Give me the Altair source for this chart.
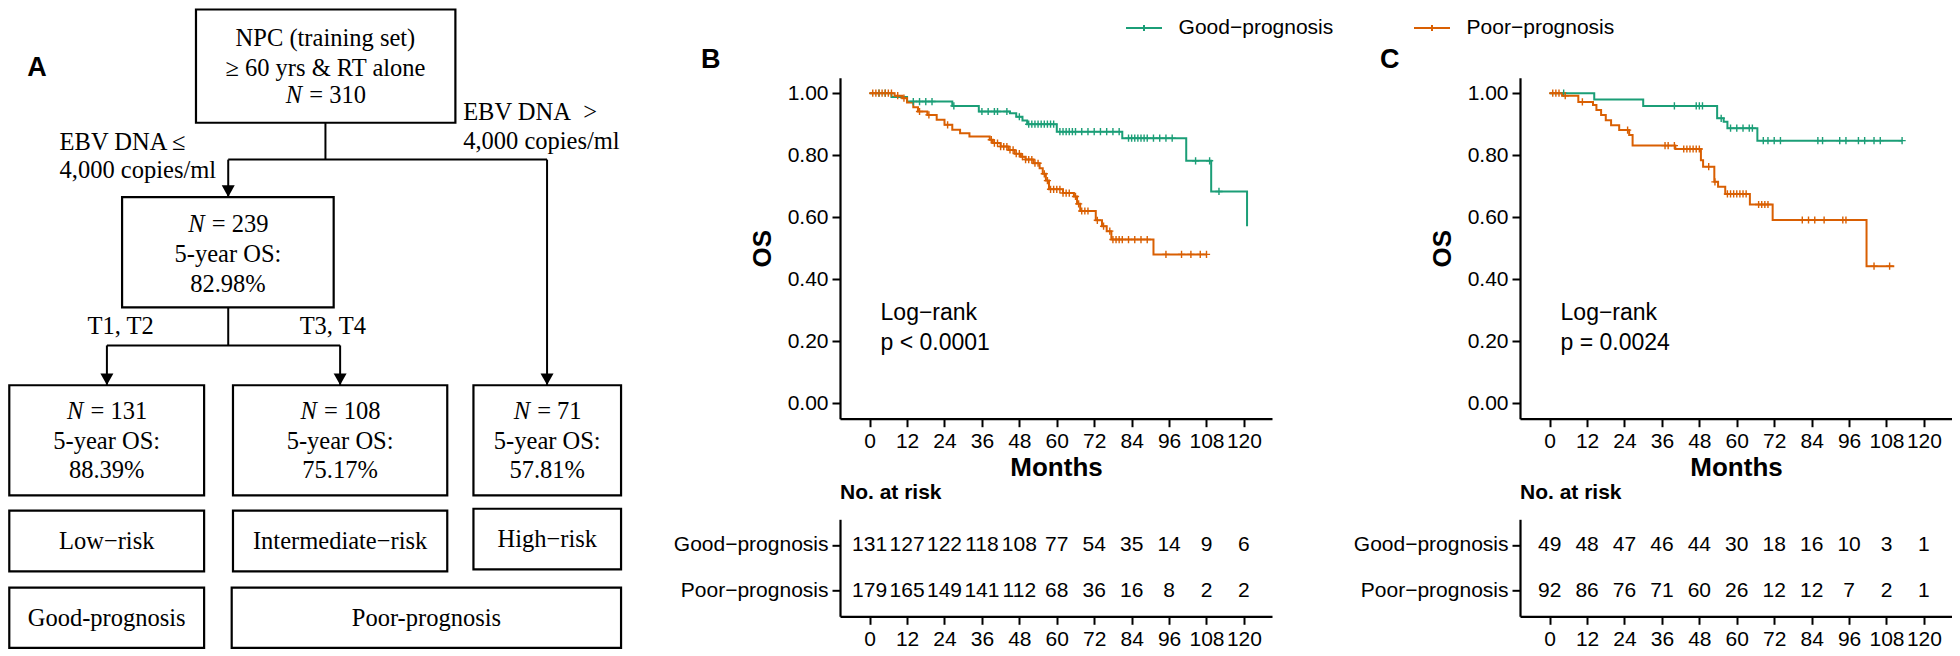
import altair as alt
import pandas as pd

# ------------------------------------------------------------------ data
GROUPS = ["Good−prognosis", "Poor−prognosis"]
COLORS = ["#1B9E77", "#D95F02"]
MONTH_TICKS = [0, 12, 24, 36, 48, 60, 72, 84, 96, 108, 120]
OS_TICKS = [0.0, 0.2, 0.4, 0.6, 0.8, 1.0]

# Panel B (training set) Kaplan-Meier steps
b_good_t = [0, 7, 12, 26.5, 35, 45, 47, 49, 50.5, 60, 81, 101.5, 109.5, 121]
b_good_s = [1.0, 0.988, 0.973, 0.959, 0.941, 0.935, 0.924, 0.912, 0.900, 0.876, 0.855, 0.782, 0.683, 0.571]
b_poor_t = [0, 8, 10.5, 12, 14, 15.5, 18.5, 21.5, 24, 26.5, 29, 32, 38.5, 39.5, 42, 44.5, 46.5,
            48.5, 50, 52.5, 54.5, 55.5, 56.5, 57.5, 62, 65.5, 66.5, 67.5, 72.5, 74.5, 76, 77.5, 91, 108]
b_poor_s = [1.0, 0.992, 0.984, 0.970, 0.955, 0.941, 0.930, 0.914, 0.898, 0.882, 0.871, 0.860, 0.850,
            0.839, 0.828, 0.817, 0.805, 0.795, 0.786, 0.774, 0.758, 0.740, 0.718, 0.690, 0.678, 0.667,
            0.643, 0.620, 0.590, 0.571, 0.555, 0.528, 0.480, 0.480]
b_good_cens = [3, 5, 14, 16, 18, 20, 27, 36, 38, 40, 41, 44, 48, 51, 52, 53, 54, 55, 56, 57, 58, 59,
               61, 62, 63, 64, 65, 66, 68, 70, 72, 74, 76, 78, 80, 83, 84, 85, 86, 87, 88, 89, 91, 93,
               95, 97, 104.5, 109, 112]
b_poor_cens = [1, 2, 3, 4, 5, 6, 7, 9, 11, 16, 19, 25, 39, 40, 41, 42, 43, 44, 45, 46, 47, 48, 49, 50,
               51, 52, 53, 54, 56, 57, 58, 59, 60, 61, 62, 63, 64, 66, 67, 68, 69, 70, 73, 75, 77, 78,
               79, 80, 81, 83, 85, 87, 89, 95, 100, 103, 106, 108]
b_risk_good = [131, 127, 122, 118, 108, 77, 54, 35, 14, 9, 6]
b_risk_poor = [179, 165, 149, 141, 112, 68, 36, 16, 8, 2, 2]
b_pval = "p < 0.0001"

# Panel C (validation set)
c_good_t = [0, 14.3, 30, 53.7, 55.8, 57, 66.6, 113]
c_good_s = [1.0, 0.980, 0.959, 0.919, 0.908, 0.887, 0.847, 0.847]
c_poor_t = [0, 4, 9.2, 13.9, 15, 16.5, 18, 19.7, 22.3, 25.5, 26.6, 40.3, 48.5, 49.2, 52.8, 54,
            56.3, 64.2, 71.5, 101.6, 110.5]
c_poor_s = [1.0, 0.992, 0.972, 0.962, 0.946, 0.930, 0.913, 0.897, 0.881, 0.865, 0.831, 0.820,
            0.784, 0.763, 0.714, 0.698, 0.675, 0.641, 0.591, 0.442, 0.442]
c_good_cens = [4.5, 40, 47, 48, 49, 55, 58, 60, 62, 64, 65, 68.5, 70, 72, 74, 86, 87.5, 93, 95,
               99, 101, 104, 106, 113]
c_poor_cens = [1, 2, 3, 5, 10.5, 25, 37, 38, 40, 43, 44, 45, 46, 47, 48, 51, 53, 57, 58, 59, 60,
               61, 62, 63, 67, 68, 69, 70, 81, 83, 85, 88, 94, 95, 104, 109]
c_risk_good = [49, 48, 47, 46, 44, 30, 18, 16, 10, 3, 1]
c_risk_poor = [92, 86, 76, 71, 60, 26, 12, 12, 7, 2, 1]
c_pval = "p = 0.0024"

# Panel A flowchart text
top_lines = ["NPC (training set)", "≥ 60 yrs & RT alone", "N = 310"]
mid_lines = ["N = 239", "5-year OS:", "82.98%"]
leaf_n = ["131", "108", "71"]
leaf_os = ["88.39%", "75.17%", "57.81%"]
risk_names = ["Low−risk", "Intermediate−risk", "High−risk"]
prog_names = ["Good-prognosis", "Poor-prognosis"]
branch_left = ["EBV DNA ≤", "4,000 copies/ml"]
branch_right = ["EBV DNA\u00a0\u00a0>", "4,000 copies/ml"]
t_labels = ["T1, T2", "T3, T4"]

# ------------------------------------------------------------------ layout (reference px -> view px)
MARGIN = 8                     # page margin around the view
SANS = "Liberation Sans"
SERIF = "Liberation Serif"
INK = "black"

B_AXIS = 840 - MARGIN          # y-axis line of panel B
C_AXIS = 1520 - MARGIN         # y-axis line of panel C
W_KM = 432
KM_TOP = 76.7 - MARGIN
H_KM = 417.7 - MARGIN
RISK_TOP = 518 - MARGIN
H_RISK = 97
COL_GAP = C_AXIS - B_AXIS - W_KM
W_A = B_AXIS - COL_GAP
ROW_GAP = RISK_TOP - H_KM
X_DOMAIN = [-9.5, 129]
Y_DOMAIN = [-0.05, 1.05]
PLUS = "M-1,0H1M0,-1V1"

AX = dict(domainColor=INK, domainWidth=2.2, tickColor=INK, tickWidth=2, tickSize=8,
          labelFont=SANS, labelFontSize=21, labelColor=INK, labelPadding=4,
          titleFont=SANS, titleFontSize=26, titleFontWeight="bold", titleColor=INK,
          grid=False, labelFlush=False, labelOverlap=False)


def step_at(ts, ss, t):
    val = ss[0]
    for a, b in zip(ts, ss):
        if a <= t:
            val = b
    return val


def km_panel(letter, letter_dx, curves, cens, pval, legend):
    rows, crow = [], []
    for g, (ts, ss) in zip(GROUPS, curves):
        rows += [{"group": g, "t": t, "s": s} for t, s in zip(ts, ss)]
    for g, (ts, ss), cl in zip(GROUPS, curves, cens):
        crow += [{"group": g, "t": t, "s": step_at(ts, ss, t)} for t in cl]
    x = alt.X("t:Q", scale=alt.Scale(domain=X_DOMAIN, nice=False, zero=False),
              axis=alt.Axis(values=MONTH_TICKS, title="Months", titlePadding=3, **AX))
    y = alt.Y("s:Q", scale=alt.Scale(domain=Y_DOMAIN, range=[H_KM, KM_TOP], nice=False, zero=False),
              axis=alt.Axis(values=OS_TICKS, format=".2f", title="OS", titlePadding=12, **AX))
    cscale = alt.Scale(domain=GROUPS, range=COLORS)
    lines = alt.Chart(pd.DataFrame(rows)).mark_line(interpolate="step-after", strokeWidth=2).encode(
        x=x, y=y, color=alt.Color("group:N", scale=cscale, legend=legend))
    pts = alt.Chart(pd.DataFrame(crow)).mark_point(shape=PLUS, size=52, filled=False, strokeWidth=1.4,
                                                   opacity=1).encode(
        x=x, y=y, color=alt.Color("group:N", scale=cscale, legend=None))
    ann = alt.Chart(pd.DataFrame({"t": [3.5, 3.5], "s": [0.29, 0.195], "label": ["Log−rank", pval]})).mark_text(
        align="left", baseline="middle", font=SANS, fontSize=23, color=INK).encode(x=x, y=y, text="label:N")
    lab = alt.Chart(pd.DataFrame({"label": [letter]})).mark_text(
        align="left", baseline="middle", font=SANS, fontSize=27, fontWeight="bold", color=INK).encode(
        x=alt.value(letter_dx), y=alt.value(59 - MARGIN), text="label:N")
    return alt.layer(lines, pts, ann, lab).properties(width=W_KM, height=H_KM)


def risk_panel(good, poor):
    rows = [{"group": GROUPS[0], "t": t, "n": n} for t, n in zip(MONTH_TICKS, good)]
    rows += [{"group": GROUPS[1], "t": t, "n": n} for t, n in zip(MONTH_TICKS, poor)]
    x = alt.X("t:Q", scale=alt.Scale(domain=X_DOMAIN, nice=False, zero=False),
              axis=alt.Axis(values=MONTH_TICKS, title=None, **AX))
    y = alt.Y("group:N", scale=alt.Scale(type="point", domain=GROUPS, padding=0.56),
              axis=alt.Axis(title=None, **AX))
    txt = alt.Chart(pd.DataFrame(rows)).mark_text(font=SANS, fontSize=21, color=INK, baseline="middle").encode(
        x=x, y=y, text="n:Q")
    head = alt.Chart(pd.DataFrame({"label": ["No. at risk"]})).mark_text(
        align="left", baseline="middle", font=SANS, fontSize=21, fontWeight="bold", color=INK).encode(
        x=alt.value(0), y=alt.value(491.7 - 518), text="label:N")
    return alt.layer(txt, head).properties(width=W_KM, height=H_RISK)


# ------------------------------------------------------------------ panel A (diagram in reference px)
box_layout = [  # x1, x2, y1, y2
    (189.5, 451, 1.5, 117.3), (115, 328.3, 193.3, 306),
    (1.3, 197.7, 385.7, 498.3), (226.8, 442.8, 385.7, 498.3), (469.2, 618, 385.7, 498.3),
    (1.3, 197.7, 514, 576), (226.8, 442.8, 514, 576), (469.2, 618, 512, 574),
    (1.3, 197.7, 592.7, 654.3), (225.5, 618, 592.7, 654.3)]
seg_layout = [
    (320, 117.3, 320, 155), (222, 155, 543.4, 155), (222, 155, 222, 193.3), (543.4, 155, 543.4, 385.7),
    (222, 306, 222, 345), (99.7, 345, 334.8, 345), (99.7, 345, 99.7, 385.7), (334.8, 345, 334.8, 385.7)]
arrow_tips = [(222, 193.3), (543.4, 385.7), (99.7, 385.7), (334.8, 385.7)]
leaf_cx = [99.5, 334.8, 543.6]

KX = 0.992
KY = 0.978
FS_A = 24.5
N_GAP = 7                      # gap between the italic N and "=" (px)
TW = {"N": 0.667, " ": 0.25, "=": 0.564}
def twidth(s):
    return sum(TW.get(c, 0.5) for c in s) * FS_A

center_txt, left_txt, n_it, n_rest = [], [], [], []

def add_n_line(cx, y, num):
    total = twidth("N = " + num)
    join = cx + (-total / 2 + TW["N"] * FS_A) / KX
    n_it.append({"x": join, "y": y, "label": "N"})
    n_rest.append({"x": join + N_GAP / KX, "y": y, "label": "= " + num})

center_txt += [{"x": 320, "y": 31.7, "label": top_lines[0]}, {"x": 320, "y": 62, "label": top_lines[1]}]
add_n_line(320, 90, top_lines[2].split("= ")[1])
add_n_line(221.7, 222, mid_lines[0].split("= ")[1])
center_txt += [{"x": 221.7, "y": 252.7, "label": mid_lines[1]}, {"x": 221.7, "y": 282.7, "label": mid_lines[2]}]
for cx, n, os_ in zip(leaf_cx, leaf_n, leaf_os):
    add_n_line(cx, 413.3, n)
    center_txt += [{"x": cx, "y": 443.3, "label": "5-year OS:"}, {"x": cx, "y": 473.3, "label": os_}]
for cx, nm, yy in zip(leaf_cx, risk_names, [546, 546, 544]):
    center_txt.append({"x": cx, "y": yy, "label": nm})
center_txt += [{"x": 99.5, "y": 625, "label": prog_names[0]}, {"x": 421.8, "y": 625, "label": prog_names[1]}]
center_txt += [{"x": 113.6, "y": 326, "label": t_labels[0]}, {"x": 327.4, "y": 326, "label": t_labels[1]}]
left_txt += [{"x": 52, "y": 138, "label": branch_left[0]}, {"x": 52, "y": 166.7, "label": branch_left[1]},
             {"x": 458.8, "y": 107, "label": branch_right[0]}, {"x": 458.8, "y": 137, "label": branch_right[1]}]

ax_ = alt.Scale(domain=[0, 1000], range=[0, 1000 * KX], nice=False, zero=False)
ay_ = alt.Scale(domain=[1, 656], range=[0, 655 * KY], nice=False, zero=False)
XA = alt.X("x:Q", scale=ax_, axis=None)
YA = alt.Y("y:Q", scale=ay_, axis=None)

boxes_df = pd.DataFrame(box_layout, columns=["x", "x2", "y", "y2"])
segs_df = pd.DataFrame(seg_layout, columns=["x", "y", "x2", "y2"])
tips_df = pd.DataFrame(arrow_tips, columns=["x", "y"])

a_boxes = alt.Chart(boxes_df).mark_rect(fill=None, stroke=INK, strokeWidth=2.2).encode(
    x=XA, x2="x2:Q", y=YA, y2="y2:Q")
a_segs = alt.Chart(segs_df).mark_rule(color=INK, strokeWidth=2).encode(x=XA, x2="x2:Q", y=YA, y2="y2:Q")
a_tips = alt.Chart(tips_df).mark_point(shape="M-1,-0.9L1,-0.9L0,0.9Z", size=169, filled=True, color=INK,
                                       opacity=1, yOffset=-6).encode(x=XA, y=YA)
txt_kw = dict(font=SERIF, fontSize=FS_A, color=INK, baseline="middle")
a_ctxt = alt.Chart(pd.DataFrame(center_txt)).mark_text(align="center", **txt_kw).encode(x=XA, y=YA, text="label:N")
a_ltxt = alt.Chart(pd.DataFrame(left_txt)).mark_text(align="left", **txt_kw).encode(x=XA, y=YA, text="label:N")
a_nit = alt.Chart(pd.DataFrame(n_it)).mark_text(align="right", fontStyle="italic", **txt_kw).encode(
    x=XA, y=YA, text="label:N")
a_nrest = alt.Chart(pd.DataFrame(n_rest)).mark_text(align="left", **txt_kw).encode(x=XA, y=YA, text="label:N")
a_letter = alt.Chart(pd.DataFrame({"x": [19.5], "y": [61], "label": ["A"]})).mark_text(
    align="left", baseline="middle", font=SANS, fontSize=27, fontWeight="bold", color=INK).encode(
    x=XA, y=YA, text="label:N")
panel_a = alt.layer(a_boxes, a_segs, a_tips, a_ctxt, a_ltxt, a_nit, a_nrest, a_letter).properties(
    width=W_A, height=H_KM)

spacer = alt.Chart(pd.DataFrame({"v": [0]})).mark_point(opacity=0).encode(
    x=alt.X("v:Q", axis=None), y=alt.Y("v:Q", axis=None)).properties(width=W_A, height=1)

# the shared legend is placed at the top level of the concat, so its position is absolute
legend_b = alt.Legend(orient="none", legendX=1125 - MARGIN, legendY=0, direction="horizontal",
                      title=None, symbolType="M-1,0H1M0,-0.17V0.17", symbolSize=1296,
                      symbolStrokeWidth=2, labelFont=SANS, labelFontSize=21, labelColor=INK,
                      labelOffset=15.6, columnPadding=76, padding=0, labelLimit=400)

km_b = km_panel("B", 701 - 840, [(b_good_t, b_good_s), (b_poor_t, b_poor_s)], [b_good_cens, b_poor_cens],
                b_pval, legend_b)
km_c = km_panel("C", 1380 - 1520, [(c_good_t, c_good_s), (c_poor_t, c_poor_s)], [c_good_cens, c_poor_cens],
                c_pval, None)
risk_b = risk_panel(b_risk_good, b_risk_poor)
risk_c = risk_panel(c_risk_good, c_risk_poor)

chart = alt.concat(panel_a, km_b, km_c, spacer, risk_b, risk_c, columns=3,
                   spacing={"row": ROW_GAP, "column": COL_GAP}, bounds="flush", align="each").properties(
    padding=0, background="white").configure_view(stroke=None)

chart.save("out.html", embed_options={"renderer": "svg", "actions": False})
